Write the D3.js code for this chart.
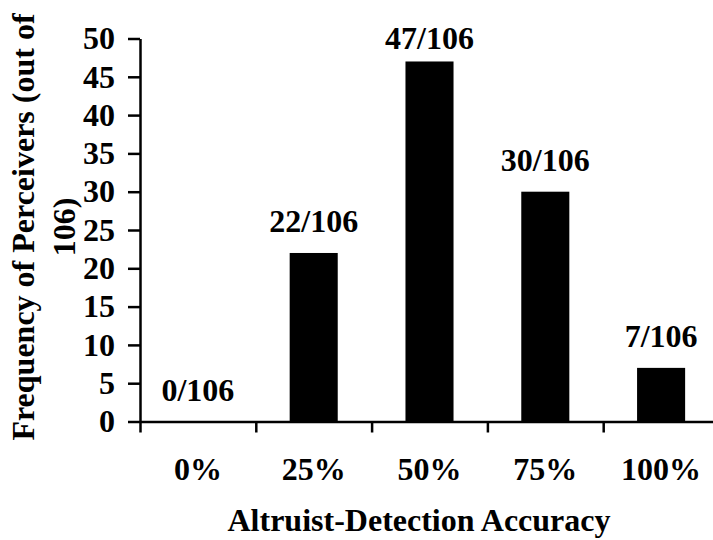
<!DOCTYPE html>
<html>
<head>
<meta charset="utf-8">
<script src="https://cdn.jsdelivr.net/npm/d3@7"></script>
<style>
  body { margin: 0; background: #fff; }
  svg text { font-family: "Liberation Serif", "Times New Roman", serif; font-weight: bold; fill: #000; }
</style>
</head>
<body>
<svg id="chart" width="713" height="540"></svg>
<script>
// accuracy categories and number of perceivers (out of 106)
var categories = ['0%', '25%', '50%', '75%', '100%'];
var counts = [0, 22, 47, 30, 7];
var total = 106;
var yTicks = [0, 5, 10, 15, 20, 25, 30, 35, 40, 45, 50];

var svg = d3.select('#chart');
var fs = 32;

var x = d3.scaleBand()
    .domain(categories)
    .range([140, 719])
    .paddingInner(0.585)
    .paddingOuter(0.2925);

//boundary scale for the tick marks between categories
var xb = d3.scaleLinear().domain([0, categories.length]).range([140, 719]);

var y = d3.scaleLinear().domain([0, 50]).range([421.5, 38.5]);

//bars
svg.append('g').selectAll('rect')
    .data(counts)
    .enter().append('rect')
    .attr('x', function (d, i) { return x(categories[i]); })
    .attr('y', function (d) { return y(d); })
    .attr('width', x.bandwidth())
    .attr('height', function (d) { return y(0) - y(d); })
    .attr('fill', '#000');

//value labels, kept below the top of the plot
svg.append('g').selectAll('text')
    .data(counts)
    .enter().append('text')
    .attr('x', function (d, i) { return x(categories[i]) + x.bandwidth() / 2; })
    .attr('y', function (d) { return Math.max(y(d) - 21, y(50) + 10); })
    .attr('text-anchor', 'middle')
    .style('font-size', fs + 'px')
    .text(function (d) { return d + '/' + total; });

//y axis
var gy = svg.append('g')
    .attr('transform', 'translate(140,0)')
    .call(d3.axisLeft(y).tickValues(yTicks).tickSize(12).tickSizeOuter(0).tickPadding(13));
gy.selectAll('text').style('font-size', fs + 'px').style('font-family', null);
gy.selectAll('line, path').attr('stroke', '#000').attr('stroke-width', 2.5);

//x axis: tick marks at category boundaries
var gx = svg.append('g')
    .attr('transform', 'translate(0,' + y(0) + ')')
    .call(d3.axisBottom(xb).tickValues(d3.range(categories.length + 1)).tickFormat('').tickSize(11).tickSizeOuter(0));
gx.selectAll('line, path').attr('stroke', '#000').attr('stroke-width', 2.5);

//x labels at category centers
var gxl = svg.append('g')
    .attr('transform', 'translate(0,' + y(0) + ')')
    .call(d3.axisBottom(x).tickSize(0));
gxl.select('.domain').remove();
gxl.selectAll('text')
    .attr('y', 58.5)
    .attr('dy', 0)
    .style('font-size', fs + 'px')
    .style('font-family', null);

//axis titles
svg.append('text')
    .attr('x', 419)
    .attr('y', 531)
    .attr('text-anchor', 'middle')
    .style('font-size', fs + 'px')
    .text('Altruist-Detection Accuracy');

var yt = svg.append('text')
    .attr('transform', 'translate(34,227) rotate(-90)')
    .attr('text-anchor', 'middle')
    .style('font-size', fs + 'px');
yt.append('tspan').attr('x', 0).attr('dy', 0).text('Frequency of Perceivers (out of');
yt.append('tspan').attr('x', 0).attr('dy', 41).text('106)');
</script>
</body>
</html>
